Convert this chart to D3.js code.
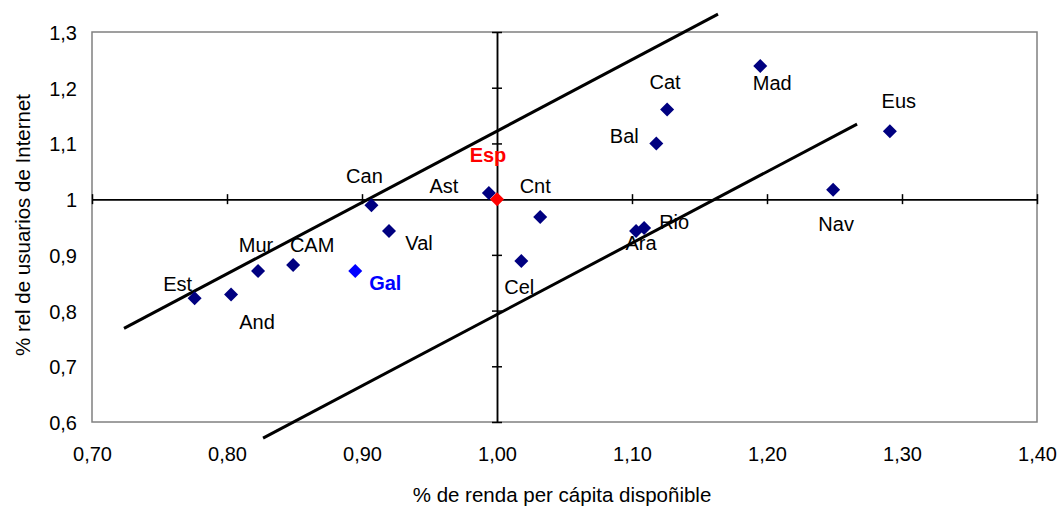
<!DOCTYPE html>
<html>
<head>
<meta charset="utf-8">
<script src="https://cdn.jsdelivr.net/npm/d3@7"></script>
<style>
  body { margin: 0; background: #fff; }
  svg text { font-family: "Liberation Sans", Arial, sans-serif; }
</style>
</head>
<body>
<svg width="1058" height="508"></svg>
<script>
// datos
const regions = ["Est", "And", "Mur", "CAM", "Gal", "Can", "Val", "Ast", "Cnt", "Cel", "Ara", "Rio", "Bal", "Cat", "Mad", "Eus", "Nav", "Esp"];
const renda   = [0.776, 0.803, 0.823, 0.849, 0.895, 0.907, 0.920, 0.994, 1.032, 1.018, 1.103, 1.109, 1.118, 1.126, 1.195, 1.291, 1.249, 1.000];
const usuarios = [0.822, 0.829, 0.871, 0.882, 0.871, 0.989, 0.943, 1.011, 0.968, 0.889, 0.943, 0.948, 1.100, 1.161, 1.239, 1.122, 1.017, 1.000];

// rectas da banda
const upperLine = [[0.7237, 0.768], [1.1637, 1.332]];
const lowerLine = [[0.8267, 0.571], [1.2667, 1.1347]];

const xTicks = [0.7, 0.8, 0.9, 1.0, 1.1, 1.2, 1.3, 1.4];
const xTickLabels = ["0,70", "0,80", "0,90", "1,00", "1,10", "1,20", "1,30", "1,40"];
const yTicks = [0.6, 0.7, 0.8, 0.9, 1.0, 1.1, 1.2, 1.3];
const yTickLabels = ["0,6", "0,7", "0,8", "0,9", "1", "1,1", "1,2", "1,3"];

const svg = d3.select("svg");

const x = d3.scaleLinear().domain([0.7, 1.4]).range([92, 1037]);
const y = d3.scaleLinear().domain([0.6, 1.3]).range([422, 32]);

// marco
svg.append("rect")
    .attr("x", x(0.7))
    .attr("y", y(1.3))
    .attr("width", x(1.4) - x(0.7))
    .attr("height", y(0.6) - y(1.3))
    .attr("fill", "none")
    .attr("stroke", "#808080")
    .attr("stroke-width", 1.5);

// ejes que se cruzan en (1,1)
function crossAxis(g) {
    g.selectAll(".domain").attr("stroke", "#000").attr("stroke-width", 1.5);
    g.selectAll(".tick line").attr("stroke", "#000").attr("stroke-width", 1.5);
    g.selectAll(".tick text").remove();
}
svg.append("g").attr("transform", `translate(0,${y(1)})`)
    .call(d3.axisBottom(x).tickValues(xTicks).tickSizeInner(5).tickSizeOuter(0).tickFormat(""))
    .call(crossAxis);
svg.append("g").attr("transform", `translate(0,${y(1)})`)
    .call(d3.axisTop(x).tickValues(xTicks).tickSizeInner(5).tickSizeOuter(0).tickFormat(""))
    .call(crossAxis);
svg.append("g").attr("transform", `translate(${x(1)},0)`)
    .call(d3.axisLeft(y).tickValues(yTicks).tickSizeInner(5).tickSizeOuter(0).tickFormat(""))
    .call(crossAxis);
svg.append("g").attr("transform", `translate(${x(1)},0)`)
    .call(d3.axisRight(y).tickValues(yTicks).tickSizeInner(5).tickSizeOuter(0).tickFormat(""))
    .call(crossAxis);

// etiquetas de los ejes (fuera del marco)
const xLab = svg.append("g").attr("transform", `translate(0,${y(0.6)})`)
    .call(d3.axisBottom(x).tickValues(xTicks).tickSize(0).tickPadding(0)
        .tickFormat((d, i) => xTickLabels[i]));
xLab.select(".domain").remove();
xLab.selectAll("text").attr("y", 39).attr("dy", null)
    .style("font-size", "20px").attr("fill", "#000");

const yLab = svg.append("g").attr("transform", `translate(${x(0.7)},0)`)
    .call(d3.axisLeft(y).tickValues(yTicks).tickSize(0).tickPadding(0)
        .tickFormat((d, i) => yTickLabels[i]));
yLab.select(".domain").remove();
yLab.selectAll("text").attr("x", -15).attr("dy", "7.5px")
    .style("font-size", "20px").attr("fill", "#000");

// rectas
const line = d3.line().x(d => x(d[0])).y(d => y(d[1]));
[upperLine, lowerLine].forEach(l => {
    svg.append("path")
        .attr("d", line(l))
        .attr("fill", "none")
        .attr("stroke", "#000")
        .attr("stroke-width", 3);
});

// puntos
const points = regions.map((r, i) => ({ name: r, rx: renda[i], uy: usuarios[i] }));
const special = { Esp: "#ff0000", Gal: "#0000ff" };

svg.selectAll(".pt")
    .data(points)
    .enter()
    .append("path")
    .attr("class", "pt")
    .attr("d", d3.symbol(d3.symbolSquare, 98))
    .attr("transform", d => `translate(${x(d.rx)},${y(d.uy)}) rotate(45)`)
    .attr("fill", d => special[d.name] || "#000080");

// posiciones de las etiquetas respecto al punto (px)
const labelOffset = {
    Est: [-17, -7], And: [26, 35], Mur: [-2, -19], CAM: [19, -13], Gal: [30, 19],
    Can: [-7, -22], Val: [30, 19], Ast: [-45, 0], Cnt: [-5, -24], Cel: [-2, 33],
    Ara: [5, 19], Rio: [30, 1], Bal: [-32, 0], Cat: [-2, -20], Mad: [12, 24],
    Eus: [9, -23], Nav: [3, 41], Esp: [-9, -37]
};

svg.selectAll(".lbl")
    .data(points)
    .enter()
    .append("text")
    .attr("class", "lbl")
    .attr("x", d => x(d.rx) + labelOffset[d.name][0])
    .attr("y", d => y(d.uy) + labelOffset[d.name][1])
    .attr("text-anchor", "middle")
    .style("font-size", "20px")
    .style("font-weight", d => special[d.name] ? "bold" : "normal")
    .attr("fill", d => special[d.name] || "#000")
    .text(d => d.name);

// títulos
svg.append("text")
    .attr("x", 562)
    .attr("y", 502)
    .attr("text-anchor", "middle")
    .style("font-size", "20.5px")
    .text("% de renda per cápita dispoñible");

svg.append("text")
    .attr("transform", "translate(30,225) rotate(-90)")
    .attr("text-anchor", "middle")
    .style("font-size", "20.5px")
    .text("% rel de usuarios de Internet");
</script>
</body>
</html>
